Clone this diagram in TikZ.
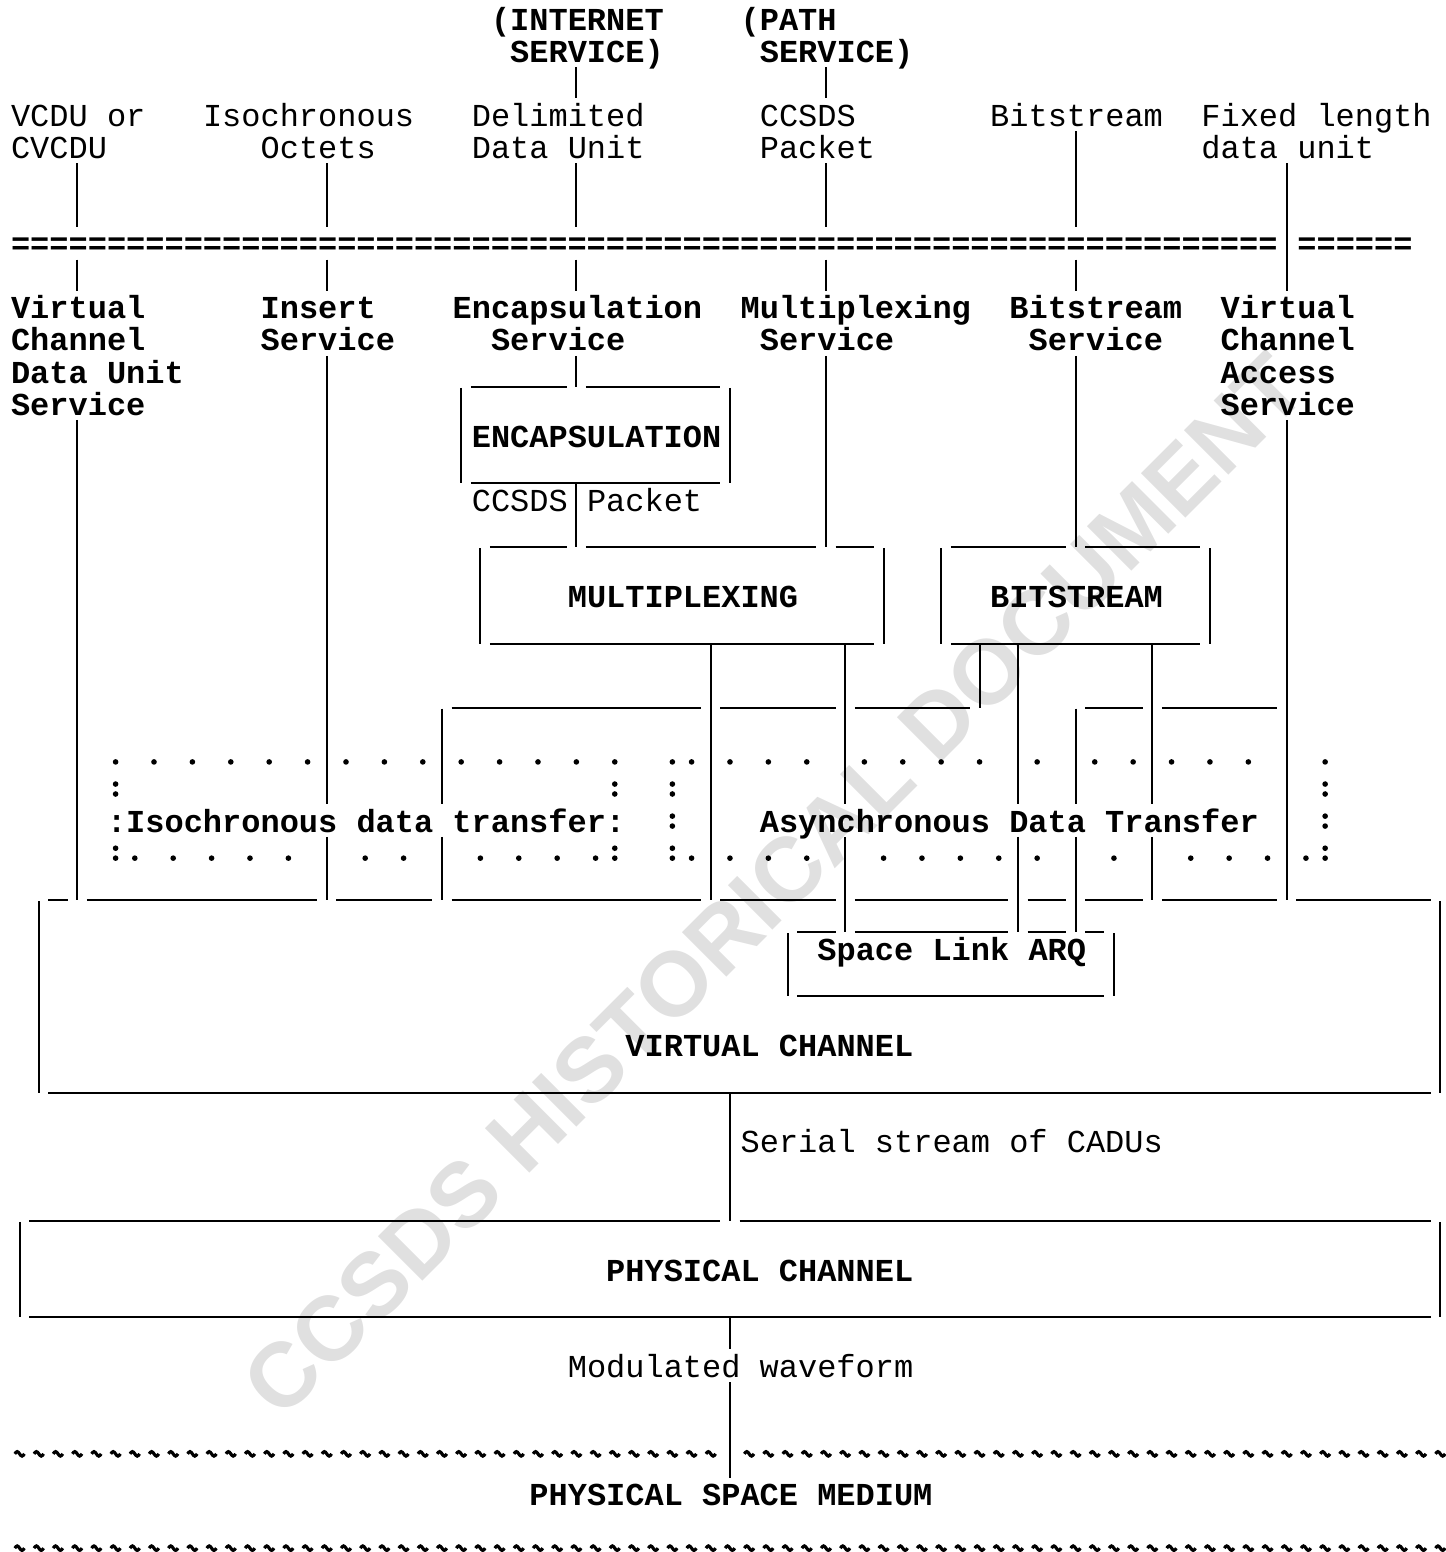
\documentclass[tikz,border=0pt]{standalone}
\usepackage{fontspec}
\setmainfont{Liberation Mono}
\newfontfamily\wmfont{Liberation Sans}
\newcommand\ccsdsfont{\fontsize{9.1}{9.13}\selectfont}
\begin{document}
\begin{tikzpicture}[x=1.92mm,y=-3.208mm,line width=.6pt,
    txt/.style={anchor=base west,inner sep=0pt,yshift=-.9pt,font=\ccsdsfont},
    btxt/.style={txt,font=\ccsdsfont\bfseries},
    tld/.style={line width=.9pt}]
  \useasboundingbox (-.521,-.842) rectangle (74.79,47.54);

  \node[rotate=45,text=black!12,font=\wmfont\fontsize{26}{30}\selectfont\bfseries] (wm) at (39.8,26.75) {CCSDS HISTORICAL DOCUMENT};

  \node[btxt] (inetA) at (25,0) {(INTERNET};
  \node[btxt] (inetB) at (26,1) {SERVICE)};
  \node[btxt] (pathA) at (38,0) {(PATH};
  \node[btxt] (pathB) at (39,1) {SERVICE)};

  \node[txt] (vcduA) at (0,3) {VCDU or};
  \node[txt] (vcduB) at (0,4) {CVCDU};
  \node[txt] (isoA) at (10,3) {Isochronous};
  \node[txt] (isoB) at (13,4) {Octets};
  \node[txt] (dduA) at (24,3) {Delimited};
  \node[txt] (dduB) at (24,4) {Data Unit};
  \node[txt] (pktA) at (39,3) {CCSDS};
  \node[txt] (pktB) at (39,4) {Packet};
  \node[txt] (bits) at (51,3) {Bitstream};
  \node[txt] (fixA) at (62,3) {Fixed length};
  \node[txt] (fixB) at (62,4) {data unit};

  \node[btxt] (eqA) at (0,7) {\foreach \i in {0,...,65}{=}};
  \node[btxt] (eqB) at (67,7) {\foreach \i in {67,...,72}{=}};

  \node[btxt] (vcdusA) at (0,9) {Virtual};
  \node[btxt] (vcdusB) at (0,10) {Channel};
  \node[btxt] (vcdusC) at (0,11) {Data Unit};
  \node[btxt] (vcdusD) at (0,12) {Service};
  \node[btxt] (insA) at (13,9) {Insert};
  \node[btxt] (insB) at (13,10) {Service};
  \node[btxt] (encsA) at (23,9) {Encapsulation};
  \node[btxt] (encsB) at (25,10) {Service};
  \node[btxt] (muxsA) at (38,9) {Multiplexing};
  \node[btxt] (muxsB) at (39,10) {Service};
  \node[btxt] (bitsA) at (52,9) {Bitstream};
  \node[btxt] (bitsB) at (53,10) {Service};
  \node[btxt] (vcasA) at (63,9) {Virtual};
  \node[btxt] (vcasB) at (63,10) {Channel};
  \node[btxt] (vcasC) at (63,11) {Access};
  \node[btxt] (vcasD) at (63,12) {Service};

  \node[btxt] (encap) at (24,13) {ENCAPSULATION};
  \node[txt] (ccsdsA) at (24,15) {CCSDS};
  \node[txt] (ccsdsB) at (30,15) {Packet};
  \node[btxt] (mux) at (29,18) {MULTIPLEXING};
  \node[btxt] (bit) at (51,18) {BITSTREAM};

  \node[btxt] (iso) at (5,25) {:Isochronous data transfer:};
  \node[btxt] (async) at (39,25) {Asynchronous Data Transfer};
  \node[btxt] (arq) at (42,29) {Space Link ARQ};
  \node[btxt] (vc) at (32,32) {VIRTUAL CHANNEL};
  \node[txt] (serial) at (38,35) {Serial stream of CADUs};
  \node[btxt] (pc) at (31,39) {PHYSICAL CHANNEL};
  \node[txt] (mod) at (29,42) {Modulated waveform};
  \node[btxt] (psm) at (27,46) {PHYSICAL SPACE MEDIUM};

  \foreach \c/\a/\b in {29/2/2,42/2/2,3/5/6,16/5/6,29/5/6,42/5/6,55/4/6,66/5/8,
      3/8/8,16/8/8,29/8/8,42/8/8,55/8/8,16/11/24,29/11/11,42/11/16,55/11/16,
      3/13/27,66/13/27,23/12/14,37/12/14,29/15/16,24/17/19,45/17/19,48/17/19,62/17/19,
      36/20/27,43/20/24,50/20/21,52/20/24,59/20/24,22/22/24,55/22/24,
      16/26/27,22/26/27,43/26/28,52/26/28,55/26/28,59/26/27,40/29/30,57/29/30,
      1/28/33,74/28/33,37/34/37,0/38/40,74/38/40,37/41/41,37/43/45}
    \draw (\c+.5,\a-.75) -- (\c+.5,\b+.22);

  \foreach \r/\a/\b in {11/24/28,11/30/36,14/24/36,16/25/28,16/30/41,16/43/44,16/49/54,16/56/61,
      19/25/44,19/49/61,21/23/35,21/37/42,21/44/49,21/56/58,21/60/65,
      27/2/2,27/4/15,27/17/21,27/23/35,27/37/42,27/44/51,27/53/54,27/56/58,27/60/65,27/67/73,
      28/41/42,28/44/51,28/53/54,28/56/56,30/41/56,33/2/73,37/1/36,37/38/73,40/1/73}
    \draw (\a,\r+.22) -- (\b+1,\r+.22);

  \foreach \c in {5,7,...,31,34,35,37,39,41,44,46,48,50,53,56,58,60,62,64,68}
    \fill (\c+.5,22.91) circle (.8pt);
  \foreach \c in {6,8,10,12,14,18,20,24,26,28,30,35,37,39,41,45,47,49,51,53,57,61,63,65,67}
    \fill (\c+.5,25.91) circle (.8pt);
  \foreach \r/\c in {24/5,24/31,24/34,24/68,25/34,25/68,26/5,26/31,26/34,26/68} {
    \fill (\c+.5,\r-.09) circle (.8pt);
    \fill (\c+.5,\r-.4) circle (.8pt);
  }

  \foreach \c in {0,...,36}
    \draw[tld] (\c+.25,44.48) sin (\c+.375,44.41) cos (\c+.5,44.48) sin (\c+.625,44.55) cos (\c+.75,44.48);
  \foreach \c in {38,...,74}
    \draw[tld] (\c+.25,44.48) sin (\c+.375,44.41) cos (\c+.5,44.48) sin (\c+.625,44.55) cos (\c+.75,44.48);
  \foreach \c in {0,...,74}
    \draw[tld] (\c+.25,47.42) sin (\c+.375,47.35) cos (\c+.5,47.42) sin (\c+.625,47.49) cos (\c+.75,47.42);
\end{tikzpicture}
\end{document}
